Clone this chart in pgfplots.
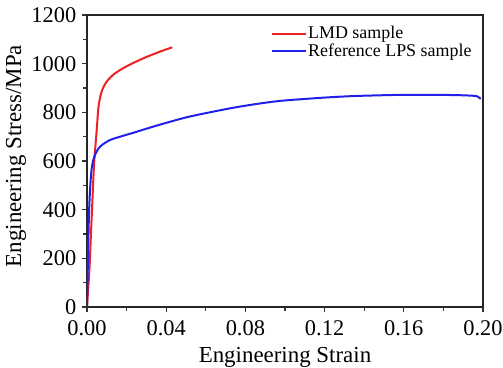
\documentclass[border=0pt]{standalone}
\usepackage{pgfplots}
\pgfplotsset{compat=1.18}
\usepackage{fontspec}
\setmainfont{Liberation Serif}
\definecolor{cred}{RGB}{238,32,36}
\definecolor{cblue}{RGB}{32,32,232}
\begin{document}
\begin{tikzpicture}
\begin{axis}[
  scale only axis, width=396bp, height=292bp,
  xmin=0, xmax=0.2, ymin=0, ymax=1200,
  xtick={0,0.04,0.08,0.12,0.16,0.2},
  ytick={0,200,400,600,800,1000,1200},
  minor x tick num=1, minor y tick num=1,
  tick pos=left, tick align=outside,
  major tick length=5bp, minor tick length=3.5bp,
  axis line style={line width=1.3bp, black!85},
  every tick/.style={black!80, line width=1.1bp},
  /pgf/number format/assume math mode=true,
  tick label style={font=\fontsize{22.5}{22.5}\selectfont, inner sep=1bp},
  xticklabel style={yshift=-7.5bp, /pgf/number format/.cd, fixed, fixed zerofill, precision=2},
  yticklabel style={xshift=-4.5bp, /pgf/number format/.cd, fixed, 1000 sep={}},
  xlabel={Engineering Strain}, ylabel={Engineering Stress/MPa},
  label style={font=\fontsize{23}{23}\selectfont},
  xlabel style={at={(axis description cs:0.5,-0.171)}, anchor=center},
  ylabel style={at={(axis description cs:-0.179,0.517)}, anchor=center},
  legend style={at={(0.462,0.968)}, anchor=north west, draw=none, fill=none,
    font=\fontsize{18}{18}\selectfont, row sep=1bp, inner sep=1bp,
    nodes={inner xsep=1bp, inner ysep=1bp}},
  legend cell align=left,
  legend image code/.code={\draw[#1, line width=2bp] (0bp,0bp) -- (34bp,0bp);},
]
\addplot[cred, line width=2bp, smooth] coordinates {
(0,0) (0.0012,150) (0.002,300) (0.0028,450) (0.0036,590) (0.0049,727)
(0.0057,815) (0.0066,860) (0.0076,890) (0.0099,926) (0.0141,960)
(0.0209,993) (0.0293,1025) (0.0377,1052) (0.0431,1067)
};
\addlegendentry{LMD sample}
\addplot[cblue, line width=2bp, smooth] coordinates {
(0,0) (0.0005,200) (0.001,380) (0.0016,490) (0.0023,565) (0.0032,605)
(0.004,625) (0.0066,659) (0.0116,686) (0.018,703) (0.0242,718)
(0.035,745) (0.0495,778) (0.062,800) (0.0747,820) (0.087,836)
(0.0975,847) (0.11,855) (0.1227,862) (0.135,867) (0.148,870)
(0.16,872) (0.173,872) (0.185,871) (0.193,869) (0.197,866) (0.1988,855)
};
\addlegendentry{Reference LPS sample}
\end{axis}
\pgfresetboundingbox
\path[use as bounding box] (-87bp,-61bp) rectangle ++(503bp,368bp);
\end{tikzpicture}
\end{document}
